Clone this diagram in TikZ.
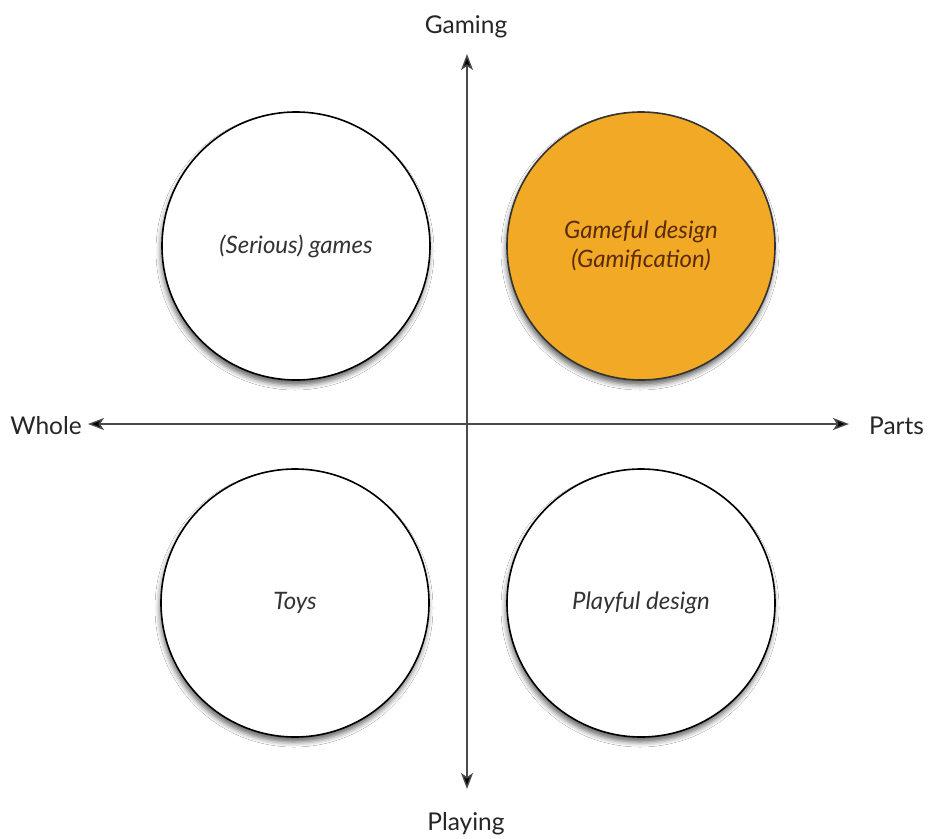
\documentclass[tikz,border=0pt]{standalone}
\usepackage{fontspec}
\setmainfont{Lato}
\usetikzlibrary{arrows.meta,shadows.blur}
\definecolor{gameorange}{HTML}{F2A925}
\definecolor{gamebrown}{HTML}{5A2C0C}
\definecolor{axisgray}{HTML}{4A4A4A}
\tikzset{
  quad/.style={circle, draw=black, line width=1.6pt, minimum size=268pt, inner sep=0pt,
    align=center, font=\fontsize{24}{29}\selectfont\itshape, text=black!80,
    blur shadow={shadow xshift=-1pt, shadow yshift=-5pt, shadow blur radius=5pt, shadow opacity=60}},
  axislabel/.style={font=\fontsize{24.5}{28}\selectfont, text=black!85, inner sep=0pt},
  axisline/.style={draw=axisgray, line width=1.4pt, {Stealth[length=16pt,width=12pt,inset=4pt,fill=black]}-{Stealth[length=16pt,width=12pt,inset=4pt,fill=black]}}
}
\begin{document}
\begin{tikzpicture}[x=1pt,y=-1pt]
\useasboundingbox[fill=white] (0,0) rectangle (928,838);
% circles
\node[quad, fill=white] (serious) at (296,246) {(Serious) games};
\node[quad, fill=gameorange, text=gamebrown, draw=black!80] (gameful) at (641,246) {Gameful design\\(Gamification)};
\node[quad, fill=white] (toys) at (295,603) {Toys};
\node[quad, fill=white] (playful) at (641,603) {Playful design};
% axes
\coordinate (top) at (467,54);
\coordinate (bottom) at (467,789);
\coordinate (left) at (88,424);
\coordinate (right) at (849,424);
\draw[axisline] (top) -- (bottom);
\draw[axisline] (left) -- (right);
% labels
\node[axislabel] (gaming) at (466,27) {Gaming};
\node[axislabel] (playing) at (466,824) {Playing};
\node[axislabel, anchor=east] (whole) at (82,426) {Whole};
\node[axislabel, anchor=west] (parts) at (869,426) {Parts};
\end{tikzpicture}
\end{document}
